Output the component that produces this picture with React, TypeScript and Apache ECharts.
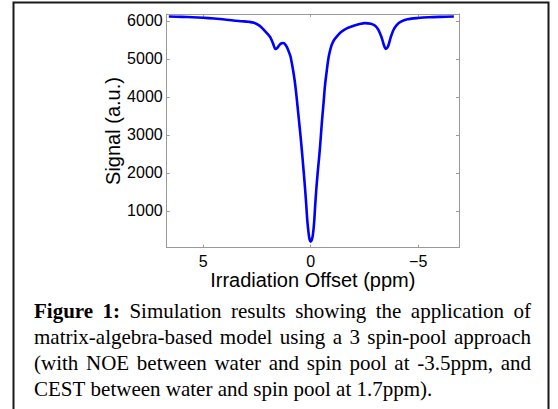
import React, { useEffect, useRef } from "react";
import * as echarts from "echarts";

// Irradiation offset (ppm) and simulated signal (a.u.)
const offsetPpm = [
  6.6, 6.0, 5.5, 5.0, 4.5, 4.0, 3.6, 3.2, 2.9, 2.64,
  2.4, 2.18, 2.0, 1.87, 1.75, 1.64, 1.55, 1.45, 1.35, 1.28,
  1.2, 1.1, 1.0, 0.94, 0.85, 0.78, 0.71, 0.63, 0.55, 0.47,
  0.4, 0.33, 0.27, 0.21, 0.16, 0.1, 0.05, 0, -0.05, -0.1,
  -0.16, -0.21, -0.27, -0.34, -0.41, -0.47, -0.53, -0.6, -0.66, -0.75,
  -0.84, -0.95, -1.05, -1.15, -1.4, -1.7, -2.0, -2.32, -2.5, -2.8,
  -3.0, -3.15, -3.3, -3.42, -3.5, -3.6, -3.72, -3.85, -4.0, -4.2,
  -4.5, -5.0, -5.5, -6.0, -6.66,
];
const signal = [
  6113, 6105, 6095, 6080, 6060, 6035, 6008, 5990, 5975, 5950,
  5880, 5763, 5650, 5560, 5400, 5260, 5290, 5370, 5410, 5415,
  5390, 5300, 5160, 5060, 4800, 4560, 4270, 3850, 3400, 2950,
  2520, 2050, 1640, 1180, 760, 420, 240, 190, 240, 360,
  700, 1150, 1640, 2100, 2520, 2950, 3400, 3850, 4270, 4700,
  5060, 5320, 5460, 5545, 5700, 5808, 5870, 5921, 5940, 5925,
  5870, 5760, 5560, 5340, 5260, 5330, 5560, 5760, 5890, 5980,
  6040, 6075, 6095, 6105, 6113,
];
const xTicks = [-5, 0, 5];
const yTicks = [1000, 2000, 3000, 4000, 5000, 6000];
const xRange = { min: -6.9, max: 6.7 };
const yRange = { min: 30, max: 6180 };

const xTitle = "Irradiation Offset (ppm)";
const yTitle = "Signal (a.u.)";
const captionBold = "Figure 1:";
const captionLines = [
  "Figure 1: Simulation results showing the application of",
  "matrix-algebra-based model using a 3 spin-pool approach",
  "(with NOE between water and spin pool at -3.5ppm, and",
  "CEST between water and spin pool at 1.7ppm).",
];

const SANS = '"Liberation Sans", Arial, Helvetica, sans-serif';
const SERIF = '"Liberation Serif", "Times New Roman", serif';
const AXIS_COLOR = "#9a9a9a";

function buildCaption(): any[] {
  const FS = 21;
  const left = 34;
  const right = 531;
  const firstBaseline = 318;
  const lineStep = 26;
  const canvas = document.createElement("canvas");
  const ctx = canvas.getContext("2d") as CanvasRenderingContext2D;
  const fontOf = (bold: boolean) => `${bold ? "bold " : ""}${FS}px ${SERIF}`;
  const measure = (t: string, bold: boolean) => {
    ctx.font = fontOf(bold);
    return ctx.measureText(t).width;
  };
  const boldWords = captionBold.split(" ");
  const els: any[] = [];
  captionLines.forEach((line, li) => {
    const words = line.split(" ");
    const isBold = words.map((_, wi) => li === 0 && wi < boldWords.length);
    const widths = words.map((w, wi) => measure(w, isBold[wi]));
    const total = widths.reduce((a, b) => a + b, 0);
    const justify = li < captionLines.length - 1;
    const gap = justify
      ? (right - left - total) / (words.length - 1)
      : measure(" ", false);
    let x = left;
    const y = firstBaseline + li * lineStep - FS * 0.33;
    words.forEach((w, wi) => {
      els.push({
        type: "text",
        x,
        y,
        silent: true,
        style: {
          text: w,
          font: fontOf(isBold[wi]),
          fill: "#000",
          textAlign: "left",
          textVerticalAlign: "middle",
          verticalAlign: "middle",
        },
      });
      x += widths[wi] + gap;
    });
  });
  return els;
}

export default function App() {
  const ref = useRef<HTMLDivElement>(null);
  useEffect(() => {
    if (!ref.current) return;
    const chart = echarts.init(ref.current, null, { renderer: "svg" });
    const data = offsetPpm.map((x, i) => [x, signal[i]]);
    const fmtX = (v: number) => (v < 0 ? "\u2212" + Math.abs(v) : String(v));
    const baseX = {
      type: "value",
      min: xRange.min,
      max: xRange.max,
      inverse: true,
      splitLine: { show: false },
      axisLine: { show: true, onZero: false, lineStyle: { color: AXIS_COLOR, width: 1 } },
      axisTick: {
        show: true,
        inside: true,
        length: 3,
        customValues: xTicks,
        lineStyle: { color: AXIS_COLOR },
      },
    };
    const baseY = {
      type: "value",
      min: yRange.min,
      max: yRange.max,
      splitLine: { show: false },
      axisLine: { show: true, onZero: false, lineStyle: { color: AXIS_COLOR, width: 1 } },
      axisTick: {
        show: true,
        inside: true,
        length: 3,
        customValues: yTicks,
        lineStyle: { color: AXIS_COLOR },
      },
    };
    chart.setOption({
      animation: false,
      grid: { left: 166.7, right: 99, top: 14, bottom: 161.3, containLabel: false },
      xAxis: [
        {
          ...baseX,
          position: "bottom",
          axisLabel: {
            show: true,
            customValues: xTicks,
            formatter: fmtX,
            color: "#000",
            fontSize: 16,
            fontFamily: SANS,
            margin: 6,
          },
        },
        { ...baseX, position: "top", axisLabel: { show: false } },
      ],
      yAxis: [
        {
          ...baseY,
          position: "left",
          axisLabel: {
            show: true,
            customValues: yTicks,
            formatter: (v: number) => String(v),
            color: "#000",
            fontSize: 16,
            fontFamily: SANS,
            margin: 4,
          },
        },
        { ...baseY, position: "right", axisLabel: { show: false } },
      ],
      series: [
        {
          type: "line",
          data,
          showSymbol: false,
          smooth: 0.3,
          lineStyle: { color: "#0000ff", width: 2.6 },
          itemStyle: { color: "#0000ff" },
          clip: true,
        },
      ],
      graphic: [
        {
          type: "rect",
          silent: true,
          shape: { x: 13.5, y: 2.5, width: 535, height: 430 },
          style: { fill: "none", stroke: "#1a1a1a", lineWidth: 2 },
        },
        {
          type: "text",
          x: 312.8,
          y: 280,
          silent: true,
          style: {
            text: xTitle,
            font: `20px ${SANS}`,
            fill: "#000",
            textAlign: "center",
            textVerticalAlign: "middle",
            verticalAlign: "middle",
          },
        },
        {
          type: "text",
          x: 113,
          y: 131,
          rotation: Math.PI / 2,
          silent: true,
          style: {
            text: yTitle,
            font: `20px ${SANS}`,
            fill: "#000",
            textAlign: "center",
            textVerticalAlign: "middle",
            verticalAlign: "middle",
          },
        },
        ...buildCaption(),
      ],
    });
    return () => chart.dispose();
  }, []);
  return (
    <div
      ref={ref}
      style={{ position: "fixed", left: 0, top: 0, width: 558, height: 409, background: "#fff" }}
    />
  );
}
